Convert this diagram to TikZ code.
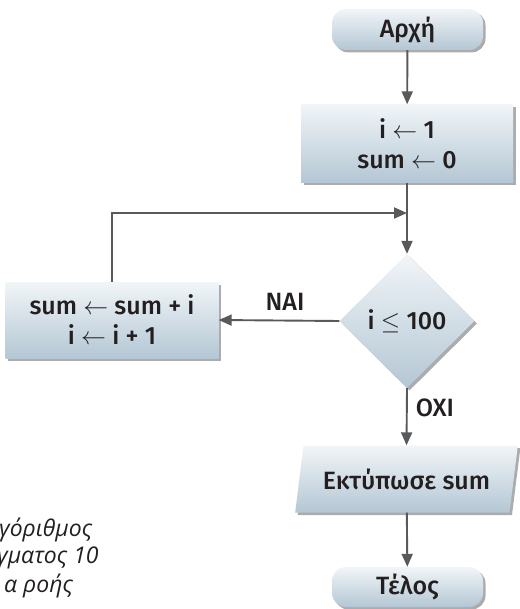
\documentclass[tikz,border=0pt]{standalone}
\usepackage{fontspec}
\setmainfont{Fira Sans Medium}
\newfontfamily\capfont{Open Sans}
\usetikzlibrary{shapes.geometric,arrows.meta,shadows}
\definecolor{boxtop}{HTML}{F1F5F8}
\definecolor{boxbot}{HTML}{B4C7D4}
\definecolor{linegray}{HTML}{58595B}
\definecolor{txt}{HTML}{231F20}
\begin{document}
\begin{tikzpicture}[x=1pt,y=-1pt,
  base/.style={shading=axis, top color=boxtop, bottom color=boxbot, draw=none,
    drop shadow={shadow xshift=2.5pt, shadow yshift=-2.5pt, fill=black!65},
    align=center, text=txt, font=\fontsize{25}{30}\selectfont, inner sep=0pt},
  termbox/.style={base, rounded corners=14pt, minimum width=151pt, minimum height=41pt},
  procbox/.style={base, minimum width=#1, minimum height=78pt},
  decbox/.style={base, diamond, aspect=1, minimum width=135pt, minimum height=134pt},
  iobox/.style={base, trapezium, trapezium left angle=72, trapezium right angle=108,
    trapezium stretches=true, minimum width=223pt, minimum height=67pt},
  flow/.style={draw=linegray, line width=1.9pt, -{Triangle[length=13pt,width=11pt]}},
  lbl/.style={text=txt, font=\fontsize{25}{27}\selectfont, inner sep=0pt},
  captxt/.style={text=txt, font=\capfont\itshape\fontsize{23}{28}\selectfont, inner sep=0pt, anchor=west}
]
\useasboundingbox (0,0) rectangle (519,609);

\node[termbox] (start) at (407.5,29.5) {Αρχή};
\node[procbox=212pt] (init) at (407,143.5) {i $\leftarrow$ 1\\sum $\leftarrow$ 0};
\node[decbox] (cond) at (407,321) {i $\leq$ 100};
\node[procbox=213pt, minimum height=76pt] (body) at (112,320) {sum $\leftarrow$ sum + i\\i $\leftarrow$ i + 1};
\node[iobox] (print) at (406.5,479) {Εκτύπωσε sum};
\node[termbox, minimum height=40pt] (end) at (407.5,587) {Τέλος};
\coordinate (merge) at (407,213);

\draw[flow] (start) -- (init);
\draw[flow] (init) -- (cond);
\draw[flow] (body.north) |- (merge);
\draw[flow] (cond.west) -- node[lbl, pos=0.45, above=9pt] (yes) {ΝΑΙ} (body.east);
\draw[flow] (cond.south) -- node[lbl, right=8pt, pos=0.35] (no) {ΟΧΙ} (print.north);
\draw[flow] (print) -- (end);

\node[captxt] (c1) at (-1,530) {γόριθμος};
\node[captxt] (c2) at (-3,558) {γματος 10};
\node[captxt] (c3) at (4,586) {α ροής};
\end{tikzpicture}
\end{document}
